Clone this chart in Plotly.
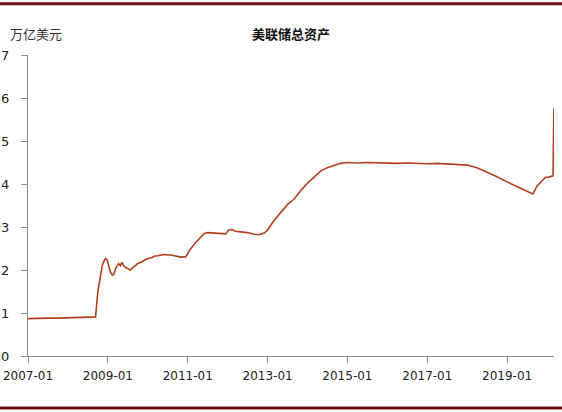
import plotly.graph_objects as go

# 美联储总资产，万亿美元
dates = [
    "2007-01-01", "2007-04-01", "2007-07-01", "2007-10-01", "2008-01-01", "2008-04-01",
    "2008-07-01", "2008-09-10", "2008-10-01", "2008-10-20", "2008-11-10", "2008-11-25",
    "2008-12-10", "2008-12-25", "2009-01-10", "2009-01-25", "2009-02-10", "2009-02-25",
    "2009-03-15", "2009-04-10", "2009-04-25", "2009-05-10", "2009-05-25", "2009-06-15",
    "2009-07-05", "2009-07-25", "2009-08-15", "2009-09-05", "2009-10-01", "2009-11-01",
    "2009-12-01", "2010-01-01", "2010-02-01", "2010-03-01", "2010-04-01", "2010-05-01",
    "2010-06-01", "2010-07-01", "2010-08-01", "2010-09-01", "2010-10-01", "2010-11-01",
    "2010-12-15", "2011-01-15", "2011-03-01", "2011-04-15", "2011-06-01", "2011-07-01",
    "2011-09-01", "2011-11-01", "2011-12-15", "2012-01-10", "2012-02-10", "2012-03-10",
    "2012-05-01", "2012-07-01", "2012-09-01", "2012-10-15", "2012-12-01", "2013-01-01",
    "2013-03-01", "2013-05-01", "2013-07-01", "2013-09-01", "2013-11-01", "2014-01-01",
    "2014-03-01", "2014-05-01", "2014-07-01", "2014-09-01", "2014-11-01", "2015-01-01",
    "2015-04-01", "2015-07-01", "2015-10-01", "2016-01-01", "2016-04-01", "2016-07-01",
    "2016-10-01", "2017-01-01", "2017-04-01", "2017-07-01", "2017-10-01", "2018-01-01",
    "2018-04-01", "2018-07-01", "2018-10-01", "2019-01-01", "2019-04-01", "2019-07-01",
    "2019-08-25", "2019-10-01", "2019-10-25", "2019-11-20", "2019-12-15", "2020-01-15",
    "2020-02-25", "2020-03-04",
]
assets = [
    0.87, 0.88, 0.88, 0.88, 0.89, 0.89,
    0.90, 0.91, 1.50, 1.80, 2.10, 2.20,
    2.27, 2.24, 2.10, 1.95, 1.88, 1.90,
    2.05, 2.15, 2.10, 2.18, 2.10, 2.05,
    2.03, 2.00, 2.05, 2.10, 2.15, 2.18,
    2.23, 2.27, 2.28, 2.32, 2.33, 2.35,
    2.36, 2.35, 2.35, 2.33, 2.31, 2.30,
    2.31, 2.45, 2.60, 2.72, 2.85, 2.87,
    2.86, 2.85, 2.84, 2.93, 2.94, 2.90,
    2.89, 2.87, 2.83, 2.82, 2.86, 2.93,
    3.15, 3.34, 3.52, 3.65, 3.85, 4.02,
    4.15, 4.30, 4.38, 4.43, 4.48, 4.50,
    4.49, 4.50, 4.49, 4.49, 4.48, 4.49,
    4.48, 4.47, 4.48, 4.47, 4.46, 4.44,
    4.38, 4.28, 4.17, 4.05, 3.94, 3.84,
    3.77, 3.95, 4.02, 4.08, 4.15, 4.16,
    4.19, 5.76,
]
x_ticks = ["2007-01-01", "2009-01-01", "2011-01-01", "2013-01-01",
           "2015-01-01", "2017-01-01", "2019-01-01"]
x_labels = ["2007-01", "2009-01", "2011-01", "2013-01", "2015-01", "2017-01", "2019-01"]
y_ticks = [0, 1, 2, 3, 4, 5, 6, 7]

LINE = "#B0401B"
BAR = "#6B0E12"
AXIS = "#8C8C8C"

fig = go.Figure()
fig.add_trace(go.Scatter(
    x=dates, y=assets, mode="lines",
    line=dict(color=LINE, width=1.6),
    showlegend=False,
))

fig.update_layout(
    width=562, height=412,
    margin=dict(l=28, r=8, t=55, b=56),
    paper_bgcolor="white", plot_bgcolor="white",
    font=dict(family="DejaVu Sans", size=13, color="#222"),
    xaxis=dict(
        type="date", range=["2007-01-01", "2020-03-05"],
        tickvals=x_ticks, ticktext=x_labels,
        showgrid=False, zeroline=False, automargin=False,
        showline=True, linecolor=AXIS, linewidth=1,
        ticks="outside", ticklen=6, tickcolor=AXIS,
        ticklabelstandoff=3,
        tickfont=dict(family="DejaVu Sans", size=12, color="#222"),
    ),
    yaxis=dict(
        range=[0, 7], tickvals=y_ticks,
        showgrid=False, zeroline=False, automargin=False,
        showline=True, linecolor=AXIS, linewidth=1,
        ticks="outside", ticklen=6, tickcolor=AXIS,
        ticklabelstandoff=9,
        tickfont=dict(family="DejaVu Sans", size=13, color="#222"),
    ),
)

fig.add_annotation(
    x=0.5, y=1.0, xref="paper", yref="paper", yanchor="middle", yshift=22,
    text="<b>美联储总资产</b>", showarrow=False,
    font=dict(family="Noto Sans CJK SC", size=13, color="#111"),
)
fig.add_annotation(
    x=-0.038, y=1.0, xref="paper", yref="paper", yanchor="middle", yshift=22,
    xanchor="left", text="万亿美元", showarrow=False,
    font=dict(family="Noto Sans CJK SC", size=13, color="#333"),
)

# 上下深红色分隔线
for y0 in (1.1700, -0.1728):
    fig.add_shape(
        type="line", xref="paper", yref="paper",
        x0=-0.06, x1=1.02, y0=y0, y1=y0,
        line=dict(color=BAR, width=3),
    )

fig.write_html(
    "out.html",
    config={"displayModeBar": False},
    post_script="document.body.style.margin='0';",
)
